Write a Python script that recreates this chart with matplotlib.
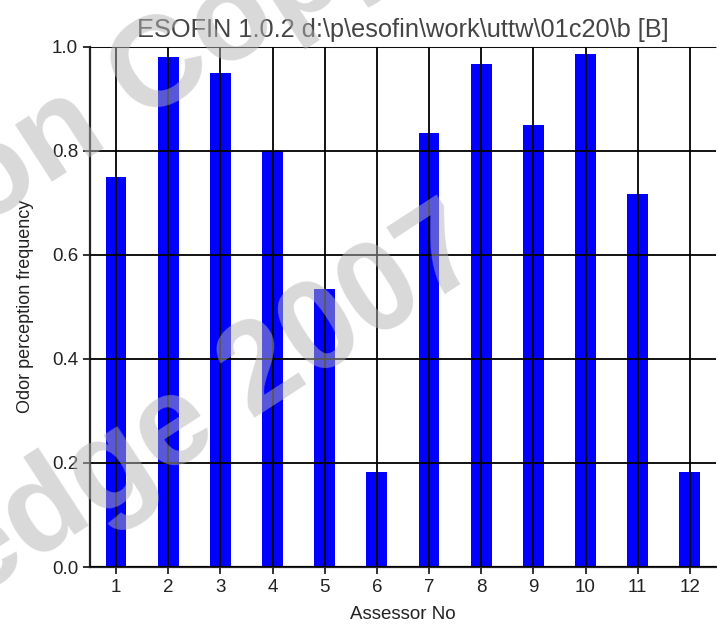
import matplotlib
matplotlib.use('Agg')
import matplotlib.pyplot as plt

assessors = [1, 2, 3, 4, 5, 6, 7, 8, 9, 10, 11, 12]
frequency = [0.75, 0.98, 0.95, 0.80, 0.534, 0.182, 0.834, 0.967, 0.85, 0.985, 0.717, 0.182]

plt.rcParams['font.family'] = ['Liberation Sans', 'DejaVu Sans']

fig = plt.figure(figsize=(7.17, 6.24), dpi=100)
ax = fig.add_axes([0.1255, 0.0913, 0.873, 0.834])

ax.bar(assessors, frequency, width=0.4, color='#0000ff', zorder=1)
ax.set_xlim(0.5, 12.5)
ax.set_ylim(0, 1.0)
ax.set_xticks(assessors)
ax.set_yticks([0.0, 0.2, 0.4, 0.6, 0.8, 1.0])
ax.set_yticklabels(['0.0', '0.2', '0.4', '0.6', '0.8', '1.0'])
ax.grid(True, color='black', linewidth=1.3, zorder=2)
ax.set_axisbelow(False)
ax.tick_params(direction='out', length=5, width=1.3, labelsize=13.5, colors='#222222')

for side in ['left', 'bottom']:
    ax.spines[side].set_linewidth(1.6)
    ax.spines[side].set_color('#222222')
ax.spines['top'].set_color('#999999')
ax.spines['right'].set_visible(False)

ax.set_title(r'ESOFIN 1.0.2 d:\p\esofin\work\uttw\01c20\b [B]', fontsize=18.3,
             color='#444444', pad=7)
ax.set_xlabel('Assessor No', fontsize=13.5, color='#222222', labelpad=7)
ax.set_ylabel('Odor perception frequency', fontsize=13, color='#222222', labelpad=13)

# watermark
wm = dict(fontsize=92, fontweight='bold', color=(0.7, 0.7, 0.7), alpha=0.5,
          rotation=33, rotation_mode='anchor', ha='right', va='baseline', zorder=10)
fig.text(490 / 717, 1 - 265 / 624, 'Knowledge 2007', **wm)
fig.text(408 / 717, 1 + 50 / 624, 'Evaluation Copy', **wm)

fig.savefig('out.png', dpi=100)
